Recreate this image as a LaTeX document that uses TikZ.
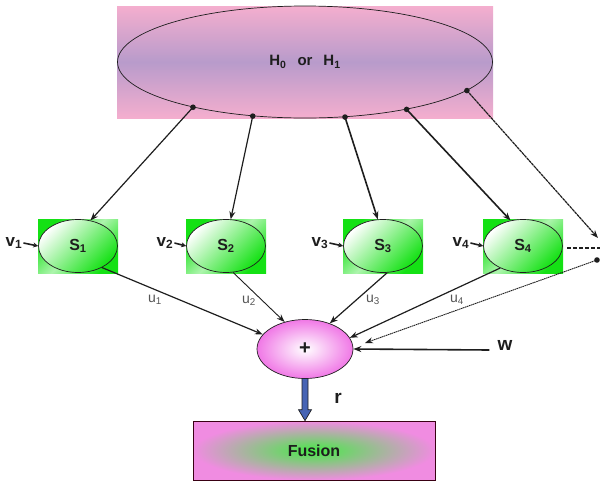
\documentclass[tikz,border=0pt]{standalone}
\usepackage{fontspec}
\setmainfont{Liberation Sans}
\usetikzlibrary{shapes.geometric,arrows.meta,calc}
\definecolor{pinkA}{RGB}{244,174,206}
\definecolor{purpleA}{RGB}{184,155,203}
\definecolor{sgreen}{RGB}{20,225,20}
\definecolor{plusPink}{RGB}{240,120,230}
\definecolor{fusPink}{RGB}{240,140,225}
\definecolor{fusGreen}{RGB}{70,235,70}
\definecolor{rblue}{RGB}{70,100,180}
\definecolor{ink}{RGB}{30,30,30}
\definecolor{ugray}{RGB}{85,85,85}
\begin{document}
\begin{tikzpicture}[x=1pt,y=-1pt,
  Hell/.style={draw=ink, ellipse, minimum width=375pt, minimum height=112pt, inner sep=0pt, line width=0.7pt, text=ink, font=\fontsize{15}{15}\selectfont\bfseries},
  sensor/.style={draw=ink, ellipse, minimum width=79pt, minimum height=53pt, inner sep=0pt, line width=0.7pt, top color=white, bottom color=sgreen, shading angle=45, text=ink, font=\fontsize{16}{16}\selectfont\bfseries},
  sensbg/.style={top color=sgreen, bottom color=sgreen, middle color=white!65!sgreen, shading angle=45},
  vlab/.style={inner sep=1pt, text=ink, font=\fontsize{17}{17}\selectfont\bfseries},
  ulab/.style={inner sep=1pt, text=ugray, font=\fontsize{14}{14}\selectfont},
  big/.style={inner sep=0pt, text=ink, font=\fontsize{19}{19}\selectfont\bfseries},
  arr/.style={-{Stealth[length=8pt,width=6pt]}, line width=1.2pt, draw=ink},
  varr/.style={-{Stealth[length=5pt,width=5pt]}, line width=1.6pt, draw=ink},
  dotmark/.style={fill=ink},
  plusnode/.style={draw=ink, ellipse, minimum width=96pt, minimum height=59pt, inner sep=0pt, line width=0.7pt, inner color=white, outer color=plusPink, text=ink, font=\fontsize{20}{20}\selectfont\bfseries},
  fus/.style={draw=black!70!purple, minimum width=242pt, minimum height=59pt, inner sep=0pt, line width=0.7pt, inner color=fusGreen, outer color=fusPink, text=ink, font=\fontsize{16}{16}\selectfont\bfseries}
]
\useasboundingbox (0,0) rectangle (600,483);

% top hypothesis box
\shade[top color=pinkA, bottom color=pinkA, middle color=purpleA] (117,6) rectangle (493,118);
\node[Hell] (H) at (305,62) {H\textsubscript{0}\hspace{11pt}or\hspace{11pt}H\textsubscript{1}};
\coordinate (d1) at (H.202.4);
\coordinate (d2) at (H.226.2);
\coordinate (d3) at (H.306.7);
\coordinate (d4) at (H.335.8);
\coordinate (d5) at (H.350.6);

% sensors
\foreach \i/\x in {1/78,2/226,3/383,4/523}{
  \shade[sensbg] (\x-40,219) rectangle (\x+40,273);
  \node[sensor] (S\i) at (\x,246) {S\textsubscript{\i}};
}

% arrows from hypothesis to sensors
\draw[arr] (d1) -- (S1.64);
\draw[arr] (d2) -- (S2.80);
\draw[arr, line width=1.6pt] (d3) -- (S3.101);
\draw[arr, line width=1.6pt] (d4) -- (S4.116);
\coordinate (e5) at (598,238);
\draw[arr, dash pattern=on 3pt off 0.6pt] (d5) -- (e5);
\foreach \d in {d1,d2,d3,d4,d5}{\fill[dotmark] (\d) circle (2.8pt);}

% noise inputs v
\node[vlab] (v1) at (14,243) {v\textsubscript{1}};
\node[vlab] (v2) at (165,243) {v\textsubscript{2}};
\node[vlab] (v3) at (320,243) {v\textsubscript{3}};
\node[vlab] (v4) at (461,243) {v\textsubscript{4}};
\foreach \i in {1,2,3,4}{\draw[varr] (v\i.east) -- (S\i.west);}

% dashed continuation
\coordinate (ds) at (567,248);
\coordinate (de) at (600,248);
\draw[line width=1.8pt, draw=ink, dash pattern=on 4pt off 2pt] (ds) -- (de);

% fusion input node
\node[plusnode] (P) at (305,349) {+};

\draw[arr] (S1.-42) -- (P.161.6);
\draw[arr, line width=0.9pt] (S2.-75) -- (P.127);
\draw[arr] (S3.-81) -- (P.46);
\draw[arr] (S4.224) -- (P.14.7);
\coordinate (d6) at (597,260);
\coordinate (e6) at (365,343);
\draw[arr, line width=0.9pt, dash pattern=on 1.5pt off 0.6pt] (d6) -- (e6);
\fill[dotmark] (d6) circle (2.8pt);

\node[ulab] (u1) at (155,300) {u\textsubscript{1}};
\node[ulab] (u2) at (249,301) {u\textsubscript{2}};
\node[ulab] (u3) at (373,300) {u\textsubscript{3}};
\node[ulab] (u4) at (457,300) {u\textsubscript{4}};

% w input
\node[big, anchor=base, inner xsep=8pt] (w) at (505,350) {w};
\draw[arr, line width=1.6pt] (w.base west) -- (P.east);

% fusion box
\node[fus] (F) at (314,450.5) {Fusion};
\node[big, anchor=base] (r) at (338,403) {r};
\filldraw[fill=rblue, draw=ink, line width=0.7pt]
  ($(P.south)+(-3,0)$) -- ($(P.south |- F.north)+(-3,-11)$) -- ($(P.south |- F.north)+(-6.5,-11)$)
  -- (P.south |- F.north) -- ($(P.south |- F.north)+(6.5,-11)$) -- ($(P.south |- F.north)+(3,-11)$)
  -- ($(P.south)+(3,0)$);
\end{tikzpicture}
\end{document}
